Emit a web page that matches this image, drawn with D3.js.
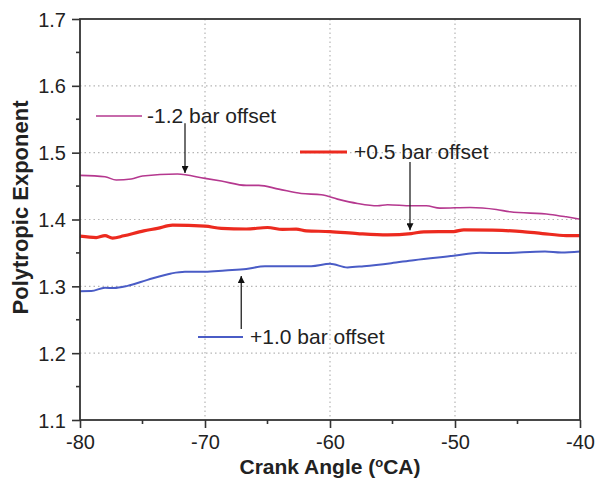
<!DOCTYPE html>
<html>
<head>
<meta charset="utf-8">
<script src="https://cdn.jsdelivr.net/npm/d3@7"></script>
<style>
  html, body { margin: 0; padding: 0; background: #fff; }
  svg { display: block; }
  text { font-family: "Liberation Sans", Arial, sans-serif; fill: #222; }
</style>
</head>
<body>
<svg id="chart" width="597" height="479"></svg>
<script>
// ---- data ----
const xTicks = [-80, -70, -60, -50, -40];
const yTicks = [1.1, 1.2, 1.3, 1.4, 1.5, 1.6, 1.7];
const seriesNames = ["-1.2 bar offset", "+0.5 bar offset", "+1.0 bar offset"];

const purpleX = [-80, -78, -77.1, -75.9, -75, -72.2, -70, -68.7, -66.7, -65.7, -64.1, -62.3, -60.7, -59.4, -57.8, -56.2, -55.4, -53.5, -52.3, -51.2, -48.8, -46.7, -45.6, -42.4, -41.1, -40];
const purpleY = [1.466, 1.464, 1.459, 1.4605, 1.465, 1.468, 1.4615, 1.4575, 1.451, 1.451, 1.4455, 1.439, 1.437, 1.4305, 1.424, 1.4205, 1.422, 1.4205, 1.4205, 1.417, 1.418, 1.415, 1.4115, 1.4076, 1.404, 1.4006];

const redX = [-80, -78.7, -78, -77.4, -76.5, -74.9, -73.8, -72.6, -70, -68.7, -66.7, -65, -63.8, -62.7, -61.9, -60, -57.8, -55.4, -53.5, -52.5, -50.1, -49.3, -47, -44.6, -43, -41.1, -40];
const redY = [1.375, 1.373, 1.376, 1.3722, 1.3756, 1.383, 1.3867, 1.3916, 1.390, 1.3867, 1.3858, 1.388, 1.3852, 1.3856, 1.383, 1.382, 1.379, 1.377, 1.379, 1.3816, 1.382, 1.3846, 1.384, 1.382, 1.379, 1.376, 1.376];

const blueX = [-80, -79.1, -78, -77.3, -76.2, -74.6, -72.7, -71.6, -70, -68.4, -66.7, -65.2, -61.5, -60, -58.6, -57.3, -55.1, -53.3, -50.1, -48, -46.3, -42.8, -41.5, -40];
const blueY = [1.2928, 1.293, 1.2978, 1.2975, 1.3007, 1.3097, 1.3193, 1.3217, 1.3217, 1.3238, 1.326, 1.3302, 1.3302, 1.3337, 1.3283, 1.3302, 1.3347, 1.3392, 1.3457, 1.3502, 1.3497, 1.3522, 1.3507, 1.3522];

// arrow annotations: x, from value, to value
const arrowX = [-71.6, -53.6, -67.1];
const arrowFrom = [1.544, 1.486, 1.236];
const arrowTo = [1.4695, 1.3841, 1.3153];

// ---- layout ----
const svg = d3.select("#chart");
const L = 80, R = 580, T = 19, B = 420;
const x = d3.scaleLinear().domain([-80, -40]).range([L, R]);
const y = d3.scaleLinear().domain([1.1, 1.7]).range([B, T]);

const axisColor = "#333";

// grid
const grid = svg.append("g");
grid.selectAll("line.gx").data(xTicks.slice(1, -1)).join("line")
  .attr("x1", d => x(d)).attr("x2", d => x(d)).attr("y1", T).attr("y2", B)
  .attr("stroke", "#b5b5b5").attr("stroke-width", 1.2).attr("stroke-dasharray", "1.5,3");
grid.selectAll("line.gy").data(yTicks.slice(1, -1)).join("line")
  .attr("y1", d => y(d)).attr("y2", d => y(d)).attr("x1", L).attr("x2", R)
  .attr("stroke", "#b5b5b5").attr("stroke-width", 1.2).attr("stroke-dasharray", "1.5,3");

// series
const line = d3.line().x(d => x(d[0])).y(d => y(d[1])).curve(d3.curveMonotoneX);
const series = [
  { xs: purpleX, ys: purpleY, color: "#b5388f", w: 1.6 },
  { xs: redX, ys: redY, color: "#ec2a1f", w: 3.2 },
  { xs: blueX, ys: blueY, color: "#4a5cc6", w: 2 }
];
series.forEach(s => {
  svg.append("path")
    .datum(s.xs.map((v, i) => [v, s.ys[i]]))
    .attr("fill", "none").attr("stroke", s.color).attr("stroke-width", s.w)
    .attr("stroke-linejoin", "round")
    .attr("d", line);
});

// axes
const xAxis = d3.axisBottom(x).tickValues(xTicks).tickSize(8).tickPadding(5).tickFormat(d => String(d));
const yAxis = d3.axisLeft(y).tickValues(yTicks).tickSize(8).tickPadding(6).tickFormat(d => d.toFixed(1));

const gx = svg.append("g").attr("transform", `translate(0,${B})`).call(xAxis);
const gy = svg.append("g").attr("transform", `translate(${L},0)`).call(yAxis);
[gx, gy].forEach(g => {
  g.select(".domain").remove();
  g.selectAll(".tick line").attr("stroke", axisColor).attr("stroke-width", 1.6);
  g.selectAll(".tick text").attr("font-size", 20).attr("fill", "#222")
    .style("font-family", "'Liberation Sans', Arial, sans-serif");
});
gx.selectAll(".tick text").attr("dy", "0.8em");
gy.selectAll(".tick text").attr("dy", "0.35em");

// minor ticks
const xMinor = d3.range(-75, -40, 10);
const yMinor = d3.range(1.15, 1.7, 0.1);
svg.append("g").selectAll("line").data(xMinor).join("line")
  .attr("x1", d => x(d)).attr("x2", d => x(d)).attr("y1", B).attr("y2", B + 4)
  .attr("stroke", axisColor).attr("stroke-width", 1.6);
svg.append("g").selectAll("line").data(yMinor).join("line")
  .attr("y1", d => y(d)).attr("y2", d => y(d)).attr("x1", L).attr("x2", L - 4)
  .attr("stroke", axisColor).attr("stroke-width", 1.6);

// frame
svg.append("rect").attr("x", L).attr("y", T).attr("width", R - L).attr("height", B - T)
  .attr("fill", "none").attr("stroke", axisColor).attr("stroke-width", 1.8);

// axis titles
svg.append("text").attr("x", (L + R) / 2).attr("y", 474).attr("text-anchor", "middle")
  .attr("font-size", 21).attr("font-weight", "bold")
  .html('Crank Angle (<tspan baseline-shift="super" font-size="13">o</tspan>CA)');
svg.append("text").attr("transform", `translate(28,${(T + B) / 2 - 12}) rotate(-90)`)
  .attr("text-anchor", "middle").attr("font-size", 22).attr("font-weight", "bold")
  .text("Polytropic Exponent");

// legends (in-plot labels)
const legends = [
  { x1: 96, x2: 142, y: 116, tx: 147, color: "#b5388f", w: 1.6 },
  { x1: 300, x2: 347, y: 152, tx: 354, color: "#ec2a1f", w: 3.2 },
  { x1: 198, x2: 243, y: 337, tx: 250, color: "#4a5cc6", w: 2 }
];
legends.forEach((l, i) => {
  svg.append("line").attr("x1", l.x1).attr("x2", l.x2).attr("y1", l.y).attr("y2", l.y)
    .attr("stroke", l.color).attr("stroke-width", l.w);
  svg.append("text").attr("x", l.tx).attr("y", l.y).attr("dy", "0.35em")
    .attr("font-size", 21).text(seriesNames[i]);
});

// arrows
const defs = svg.append("defs");
defs.append("marker").attr("id", "ah").attr("viewBox", "0 0 10 10")
  .attr("refX", 10).attr("refY", 5)
  .attr("markerUnits", "userSpaceOnUse").attr("orient", "auto")
  .attr("markerWidth", 13).attr("markerHeight", 7)
  .append("path").attr("d", "M0,0 L10,5 L0,10 Z").attr("fill", "#111");
arrowX.forEach((ax, i) => {
  svg.append("line")
    .attr("x1", x(ax)).attr("x2", x(ax)).attr("y1", y(arrowFrom[i])).attr("y2", y(arrowTo[i]))
    .attr("stroke", "#222").attr("stroke-width", 1.3).attr("marker-end", "url(#ah)");
});
</script>
</body>
</html>
